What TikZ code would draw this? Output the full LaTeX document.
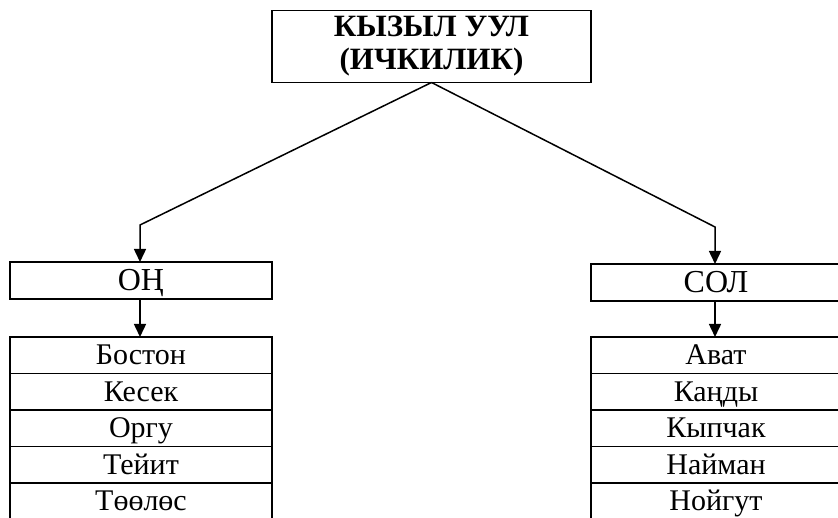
\documentclass[tikz,border=0pt]{standalone}
\usepackage{fontspec}
\setmainfont{Liberation Serif}
\usetikzlibrary{arrows.meta}

\begin{document}
\begin{tikzpicture}[x=1pt,y=1pt,line width=1.5pt,
  >={Triangle[length=13pt,width=12pt]},
  box/.style={draw,outer sep=0pt,inner sep=0pt},
  branch/.style={box,minimum height=37pt,font=\fontsize{32}{36}\selectfont,
    text height=21pt,text depth=0pt},
  row/.style={box,minimum height=36.5pt,font=\fontsize{30}{34}\selectfont,
    text height=19.5pt,text depth=0pt}]
\clip (0,0) rectangle (838,518);
% top box
\node [box,minimum width=319pt,minimum height=72pt,align=center,
  font=\fontsize{31}{33}\selectfont\bfseries] (top) at (431.5,471.5) {КЫЗЫЛ УУЛ\\(ИЧКИЛИК)};
% the two branches
\node [branch,minimum width=262pt] (on) at (141,237.5) {ОҢ};
\node [branch,minimum width=250pt] (sol) at (716,235.5) {СОЛ};
\coordinate (bendL) at (140,293);
\coordinate (bendR) at (715,291);
\draw [->] (top.south) -- (bendL) -- (on.north -| bendL);
\draw [->] (top.south) -- (bendR) -- (sol.north -| bendR);
% clan lists
\foreach \clan/\k in {Бостон/1,Кесек/2,Оргу/3,Тейит/4,Төөлөс/5}
  { \node [row,minimum width=262pt] (l\k) at (141,162.75-36.5*\k+36.5) {\clan};}
\foreach \clan/\k in {Ават/1,Каңды/2,Кыпчак/3,Найман/4,Нойгут/5}
  { \node [row,minimum width=250pt] (r\k) at (716,162.75-36.5*\k+36.5) {\clan};}
\draw [->] (on.south -| bendL) -- (l1.north -| bendL);
\draw [->] (sol.south -| bendR) -- (r1.north -| bendR);
\end{tikzpicture}
\end{document}
